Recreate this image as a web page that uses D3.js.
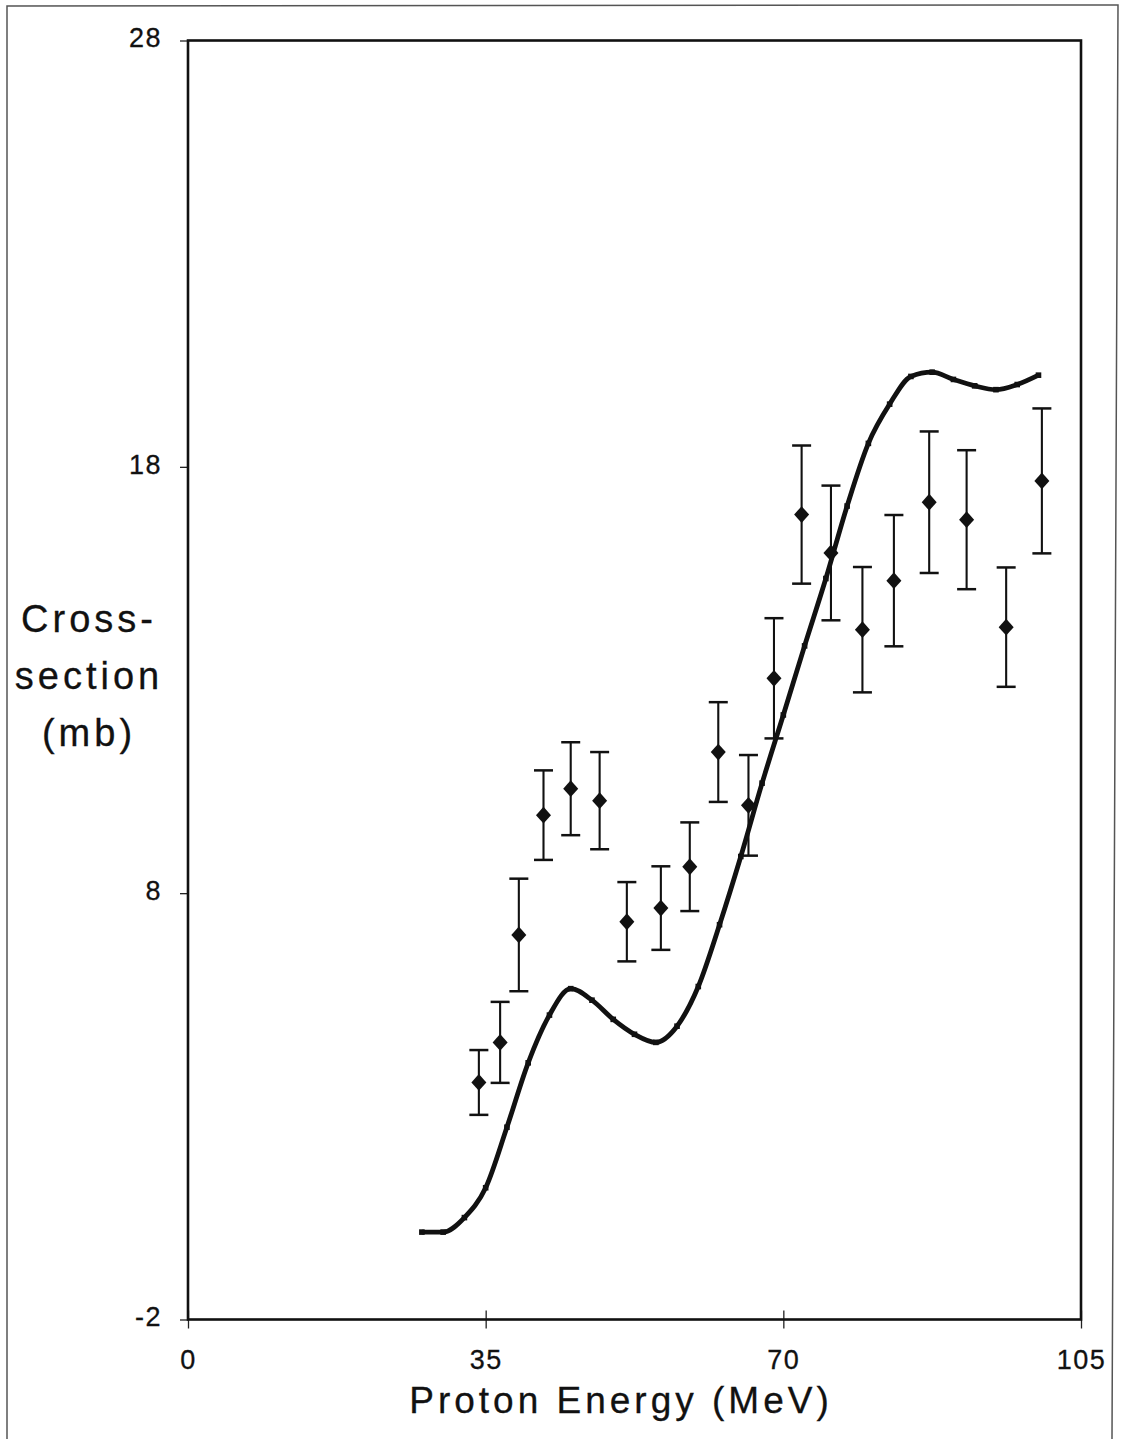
<!DOCTYPE html>
<html>
<head>
<meta charset="utf-8">
<script src="https://cdn.jsdelivr.net/npm/d3@7"></script>
<style>
  html, body { margin: 0; padding: 0; background: #fff; }
  svg { display: block; }
  text { font-family: "Liberation Sans", Arial, sans-serif; fill: #111; }
</style>
</head>
<body>
<svg id="chart" width="1132" height="1439"></svg>
<script>
// Measured cross-sections (mb) with uncertainties
const energies = [34.2, 36.7, 38.9, 41.8, 45.0, 48.4, 51.6, 55.6, 59.0, 62.35,
                  65.9, 68.9, 72.15, 75.6, 79.3, 83.0, 87.15, 91.55, 96.2, 100.4];
const crossSections = [3.56, 4.50, 7.02, 9.83, 10.45, 10.17, 7.33, 7.65, 8.62, 11.31,
                       10.06, 13.04, 16.88, 15.98, 14.18, 15.33, 17.17, 16.76, 14.24, 17.67];
const errors = [0.76, 0.95, 1.32, 1.05, 1.09, 1.14, 0.93, 0.98, 1.04, 1.17,
                1.18, 1.41, 1.62, 1.58, 1.47, 1.54, 1.66, 1.63, 1.40, 1.70];

// Model calculation
const modelEnergies = [27.5, 30, 32.5, 35, 37.5, 40, 42.5, 45, 47.5, 50,
                       52.5, 55, 57.5, 60, 62.5, 65, 67.5, 70, 72.5, 75,
                       77.5, 80, 82.5, 85, 87.5, 90, 92.5, 95, 97.5, 100];
const modelValues = [0.05, 0.05, 0.39, 1.09, 2.51, 4.02, 5.14, 5.76, 5.49, 5.04,
                     4.69, 4.50, 4.88, 5.81, 7.26, 8.86, 10.58, 12.18, 13.80, 15.38,
                     17.08, 18.55, 19.47, 20.12, 20.22, 20.05, 19.90, 19.81, 19.93, 20.15];

// Axis ticks
const xTicks = [0, 35, 70, 105];
const yTicks = [-2, 8, 18, 28];

const svg = d3.select("#chart");
const plotLeft = 188, plotRight = 1081, plotTop = 40.5, plotBottom = 1319.5;

const x = d3.scaleLinear().domain([0, 105]).range([plotLeft, plotRight]);
const y = d3.scaleLinear().domain([-2, 28]).range([plotBottom, plotTop]);
const plainFormat = d => String(d);   // hyphen-minus, as typed on the axis

// Page border
svg.append("path")
  .attr("d", d3.line()([[7, 1439], [7, 6], [1118, 5], [1112, 1439]]))
  .attr("fill", "none").attr("stroke", "#555").attr("stroke-width", 1.5);

// Axes
const xAxis = svg.append("g")
  .attr("transform", `translate(0,${plotBottom})`)
  .call(d3.axisBottom(x).tickValues(xTicks).tickFormat(plainFormat)
    .tickSizeInner(9).tickSizeOuter(0).tickPadding(21));
xAxis.select(".domain").remove();
xAxis.selectAll(".tick line").attr("y1", -9).attr("y2", 9)
  .attr("stroke", "#222").attr("stroke-width", 1.3);
xAxis.selectAll(".tick text")
  .attr("font-size", 27).attr("letter-spacing", "1.5px")
  .attr("stroke", "#111").attr("stroke-width", 0.3)
  .attr("font-family", "'Liberation Sans', Arial, sans-serif").attr("fill", "#111");

const yAxis = svg.append("g")
  .attr("transform", `translate(${plotLeft},0)`)
  .call(d3.axisLeft(y).tickValues(yTicks).tickFormat(plainFormat)
    .tickSizeInner(8).tickSizeOuter(0).tickPadding(18));
yAxis.select(".domain").remove();
yAxis.selectAll(".tick line").attr("stroke", "#222").attr("stroke-width", 1.3);
yAxis.selectAll(".tick text")
  .attr("font-size", 27).attr("letter-spacing", "1.5px").attr("dy", "0.24em")
  .attr("stroke", "#111").attr("stroke-width", 0.3)
  .attr("font-family", "'Liberation Sans', Arial, sans-serif").attr("fill", "#111");

// Plot frame
svg.append("rect")
  .attr("x", plotLeft).attr("y", plotTop)
  .attr("width", plotRight - plotLeft).attr("height", plotBottom - plotTop)
  .attr("fill", "none").attr("stroke", "#111").attr("stroke-width", 2.6);

// Model curve
const line = d3.line()
  .x((d, i) => x(modelEnergies[i]))
  .y(d => y(d))
  .curve(d3.curveMonotoneX);
svg.append("path")
  .datum(modelValues)
  .attr("d", line)
  .attr("fill", "none").attr("stroke", "#111")
  .attr("stroke-width", 4.8).attr("stroke-linejoin", "round");
svg.append("g").selectAll("rect")
  .data(modelValues)
  .join("rect")
  .attr("x", (d, i) => x(modelEnergies[i]) - 2.8)
  .attr("y", d => y(d) - 2.8)
  .attr("width", 5.6).attr("height", 5.6)
  .attr("fill", "#111");

// Error bars
const capHalf = 9.5;
const bars = svg.append("g").attr("stroke", "#111");
energies.forEach((e, i) => {
  const cx = x(e);
  const y0 = y(crossSections[i] - errors[i]);
  const y1 = y(crossSections[i] + errors[i]);
  bars.append("line").attr("x1", cx).attr("x2", cx).attr("y1", y0).attr("y2", y1)
    .attr("stroke-width", 2.1);
  bars.append("line").attr("x1", cx - capHalf).attr("x2", cx + capHalf).attr("y1", y0).attr("y2", y0)
    .attr("stroke-width", 2.5);
  bars.append("line").attr("x1", cx - capHalf).attr("x2", cx + capHalf).attr("y1", y1).attr("y2", y1)
    .attr("stroke-width", 2.5);
});

// Diamond markers
const diamond = {
  draw(context, size) {
    const w = Math.sqrt(size) / 2, h = w * 1.12;
    context.moveTo(0, -h);
    context.lineTo(w, 0);
    context.lineTo(0, h);
    context.lineTo(-w, 0);
    context.closePath();
  }
};
svg.append("g").selectAll("path")
  .data(crossSections)
  .join("path")
  .attr("transform", (d, i) => `translate(${x(energies[i])},${y(d)})`)
  .attr("d", d3.symbol().type(diamond).size(225))
  .attr("fill", "#111");

// Axis titles
svg.append("text")
  .attr("x", 621).attr("y", 1413)
  .attr("text-anchor", "middle")
  .attr("font-size", 37).attr("letter-spacing", "4px")
  .attr("stroke", "#111").attr("stroke-width", 0.3)
  .text("Proton Energy (MeV)");

const yTitle = ["Cross-", "section", "(mb)"];
svg.append("g").selectAll("text")
  .data(yTitle)
  .join("text")
  .attr("x", 89)
  .attr("y", (d, i) => 632 + i * 57)
  .attr("text-anchor", "middle")
  .attr("font-size", 38).attr("letter-spacing", "4px")
  .attr("stroke", "#111").attr("stroke-width", 0.3)
  .text(d => d);
</script>
</body>
</html>
